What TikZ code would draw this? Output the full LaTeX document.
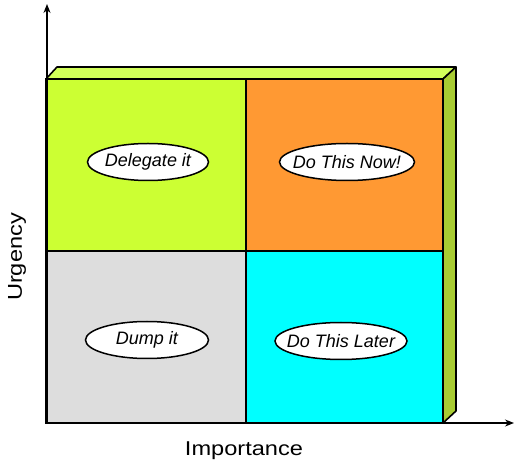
\documentclass[tikz,border=0pt]{standalone}
\usepackage{fontspec}
\setmainfont{Liberation Sans}
\usepackage{xcolor}
\usepackage{tikz}
\usetikzlibrary{arrows.meta,positioning,shapes.geometric}
\definecolor{limegreen}{HTML}{CCFF33}
\definecolor{topgreen}{HTML}{D2FF5A}
\definecolor{sidegreen}{HTML}{A8CC33}
\definecolor{orangefill}{HTML}{FF9933}
\definecolor{grayfill}{HTML}{DDDDDD}
\definecolor{cyanfill}{HTML}{00FFFF}
\tikzset{
  quadrant/.style={draw=black, line width=1.6pt},
  face/.style={draw=black, line width=1.6pt, line join=round},
  tag/.style={draw=black, ellipse, fill=white, line width=1.5pt, inner xsep=-14pt, inner ysep=0pt, minimum height=37pt, font=\fontsize{18}{20}\selectfont\itshape},
  axis/.style={-{Stealth[length=9pt,width=7pt]}, line width=1.4pt, draw=black},
  axislabel/.style={font=\fontsize{20}{24}\selectfont, xscale=1.18}
}

\begin{document}
\begin{tikzpicture}[x=1pt,y=-1pt]
  \useasboundingbox (0,0) rectangle (517,470);

  % box faces
  \draw[face, fill=topgreen] (46,79) -- (57,67) -- (456,67) -- (443,79) -- cycle;
  \draw[face, fill=sidegreen] (443,79) -- (456,67) -- (456,411) -- (443,423) -- cycle;

  % quadrants
  \draw[quadrant, fill=limegreen] (46,79) rectangle (246,251);
  \draw[quadrant, fill=orangefill] (246,79) rectangle (443,251);
  \draw[quadrant, fill=grayfill] (46,251) rectangle (246,423);
  \draw[quadrant, fill=cyanfill] (246,251) rectangle (443,423);

  % axes
  \coordinate (origin) at (47,423);
  \coordinate (ytip) at (47,4);
  \coordinate (xtip) at (514,423);
  \draw[axis] (origin) -- (ytip);
  \draw[axis] (origin) -- (xtip);
  \node[axislabel] (importance) at (244,451) {Importance};
  \node[rotate=90, axislabel] (urgency) at (17,257) {Urgency};

  % labels
  \node[tag, minimum width=121pt] (delegate) at (148,162) {Delegate it};
  \node[tag, minimum width=135pt] (donow) at (347,162) {Do This Now!};
  \node[tag, minimum width=123pt] (dump) at (147,340) {Dump it};
  \node[tag, minimum width=132pt] (dolater) at (341,341) {Do This Later};
\end{tikzpicture}
\end{document}
